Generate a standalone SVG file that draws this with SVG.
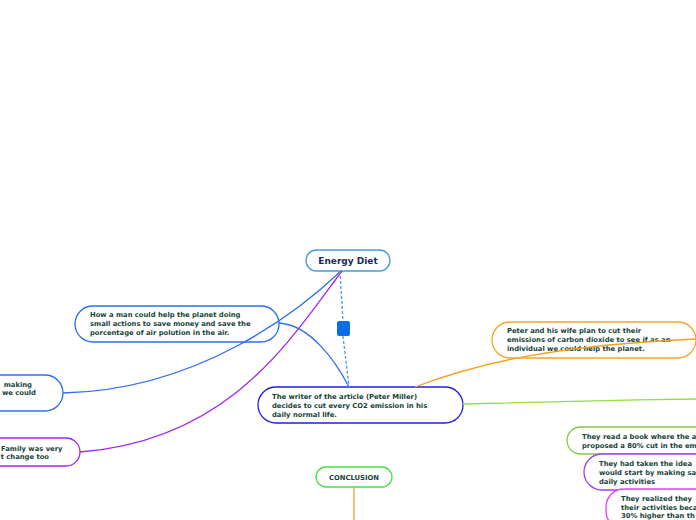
<svg xmlns="http://www.w3.org/2000/svg" width="696" height="520" viewBox="0 0 696 520">
<style>
.n{fill:#fff;stroke-width:1.3}
.t{font-family:"DejaVu Sans",Verdana,sans-serif;font-weight:bold;font-size:6.8px;fill:#17443a}
.c{fill:none;stroke-width:1.3}
</style>
<rect width="696" height="520" fill="#fff"/>
<g id="energy-diet">
<rect class="n" x="306" y="250" width="84" height="21" rx="10.5" stroke="#4a9ad6"/>
<text x="348" y="264" text-anchor="middle" font-family="DejaVu Sans,Verdana,sans-serif" font-weight="bold" font-size="9" fill="#1a2a55">Energy Diet</text>
</g>
<g id="how-a-man">
<rect class="n" x="75" y="306" width="204" height="36" rx="18" stroke="#2d6ef0"/>
<text class="t" x="90" y="317">How a man could help the planet doing</text>
<text class="t" x="90" y="326">small actions to save money and save the</text>
<text class="t" x="90" y="335">porcentage of air polution in the air.</text>
</g>
<g id="making">
<rect class="n" x="-150" y="375" width="213" height="36" rx="18" stroke="#2d6ef0"/>
<text class="t" x="32" y="387" text-anchor="end">making</text>
<text class="t" x="36" y="395" text-anchor="end">we could</text>
</g>
<g id="family">
<rect class="n" x="-150" y="438" width="230" height="28" rx="14" stroke="#a626f0"/>
<text class="t" x="1" y="451">Family was very</text>
<text class="t" x="49" y="459" text-anchor="end">t change too</text>
</g>
<g id="writer">
<rect class="n" x="258" y="387" width="205" height="36" rx="18" stroke="#2020e0"/>
<text class="t" x="272" y="399">The writer of the article (Peter Miller)</text>
<text class="t" x="272" y="408">decides to cut every CO2 emission in his</text>
<text class="t" x="272" y="417">daily normal life.</text>
</g>
<g id="peter">
<rect class="n" x="492" y="322" width="204" height="36" rx="18" stroke="#f5a623"/>
<text class="t" x="507" y="333">Peter and his wife plan to cut their</text>
<text class="t" x="507" y="342">emissions of carbon dioxide to see if as an</text>
<text class="t" x="507" y="351">individual we could help the planet.</text>
</g>
<g id="book">
<rect class="n" x="567" y="427" width="200" height="27" rx="13.5" stroke="#8bc34a"/>
<text class="t" x="582" y="439">They read a book where the a</text>
<text class="t" x="582" y="448">proposed a 80% cut in the em</text>
</g>
<g id="idea">
<rect class="n" x="584" y="454" width="200" height="36" rx="18" stroke="#a040f0"/>
<text class="t" x="599" y="466">They had taken the idea</text>
<text class="t" x="599" y="475">would start by making sa</text>
<text class="t" x="599" y="484">daily activities</text>
</g>
<g id="realized">
<rect class="n" x="606" y="489" width="200" height="40" rx="18" stroke="#e040fb"/>
<text class="t" x="621" y="501">They realized they</text>
<text class="t" x="621" y="510">their activities beca</text>
<text class="t" x="621" y="518">30% higher than th</text>
</g>
<g id="conclusion">
<rect class="n" x="316" y="467" width="76" height="20" rx="10" stroke="#44e044"/>
<text class="t" x="354" y="480" text-anchor="middle">CONCLUSION</text>
</g>
<g id="connectors">
<path class="c" d="M341,271 C300,310 200,390 63,393" stroke="#2d6ef0"/>
<path class="c" d="M342,271 C290,340 230,440 80,452" stroke="#a626f0"/>
<path class="c" d="M279,323 C310,325 335,360 349,387" stroke="#2d6ef0"/>
<path class="c" d="M340,271 L343,321 M343,336 L349,387" stroke="#4a9ae6" stroke-dasharray="3,2"/>
<path class="c" d="M415,387 C480,362 560,345 696,339" stroke="#f5a020" stroke-width="1.6"/>
<path class="c" d="M463,404 C550,402 620,400 696,399" stroke="#8fe040" stroke-width="1.6"/>
<path class="c" d="M354,487 L354,520" stroke="#f5a020" stroke-width="2"/>
<rect x="337" y="321" width="13" height="15" rx="2" fill="#0a6fe0"/>
</g>
</svg>
